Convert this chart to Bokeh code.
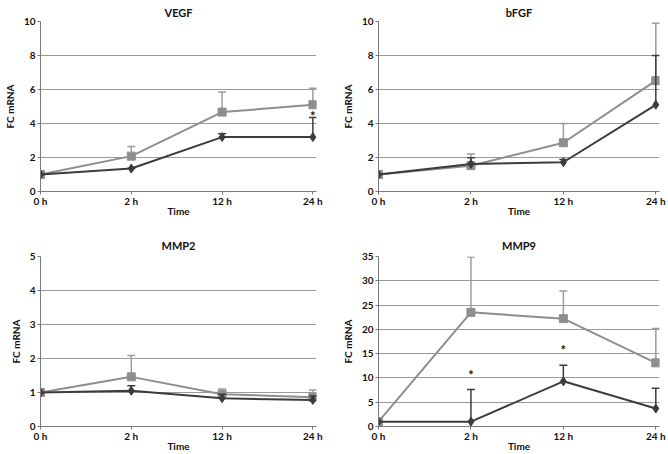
from bokeh.plotting import figure
from bokeh.layouts import gridplot
from bokeh.models import Range1d, FixedTicker, ColumnDataSource
from bokeh.embed import file_html
from bokeh.resources import INLINE
from bokeh.core.properties import value

times = ["0 h", "2 h", "12 h", "24 h"]
xpos = [0, 1, 2, 3]

vegf_dark = [1.0, 1.35, 3.2, 3.2]
vegf_dark_up = [1.0, 1.35, 3.4, 4.35]
vegf_gray = [1.0, 2.08, 4.67, 5.1]
vegf_gray_up = [1.0, 2.64, 5.86, 6.08]
vegf_star_x = [3]
vegf_star_y = [4.45]

bfgf_dark = [1.0, 1.62, 1.72, 5.1]
bfgf_dark_up = [1.0, 1.98, 1.88, 8.0]
bfgf_gray = [1.0, 1.52, 2.87, 6.52]
bfgf_gray_up = [1.0, 2.2, 4.0, 9.9]

mmp2_dark = [1.0, 1.05, 0.83, 0.78]
mmp2_dark_up = [1.0, 1.2, 0.95, 0.9]
mmp2_gray = [1.0, 1.46, 0.95, 0.86]
mmp2_gray_up = [1.0, 2.09, 1.1, 1.07]

mmp9_dark = [1.0, 1.0, 9.3, 3.7]
mmp9_dark_up = [1.0, 7.6, 12.6, 7.9]
mmp9_gray = [1.0, 23.5, 22.2, 13.1]
mmp9_gray_up = [1.0, 34.9, 27.9, 20.2]
mmp9_star_x = [1, 2]
mmp9_star_y = [10.6, 15.7]

DARK = "#3c3c3c"
GRAY = "#8e8e8e"
FONT = "Lato"


def panel(title, ymax, ystep, dark, dark_up, gray, gray_up, stars,
          left, right, top, bottom, title_standoff):
    p = figure(width=334, height=227, output_backend="svg", toolbar_location=None,
               x_range=Range1d(0, 3.04), y_range=Range1d(0, ymax),
               min_border_left=left, min_border_right=right,
               min_border_top=top, min_border_bottom=bottom)
    p.title.text = title
    p.title.align = "center"
    p.title.text_font = FONT
    p.title.text_font_size = "11px"
    p.title.text_font_style = "bold"
    p.title.text_color = "#111111"
    p.title.standoff = title_standoff
    p.outline_line_color = None
    p.xgrid.grid_line_color = None
    p.ygrid.grid_line_color = "#9a9a9a"
    p.ygrid.grid_line_width = 1
    p.xaxis.ticker = FixedTicker(ticks=xpos)
    p.xaxis.major_label_overrides = {i: t for i, t in zip(xpos, times)}
    p.yaxis.ticker = FixedTicker(ticks=list(range(0, ymax + 1, ystep)))
    for ax in (p.xaxis[0], p.yaxis[0]):
        ax.axis_line_color = "#7a7a7a"
        ax.major_tick_line_color = "#7a7a7a"
        ax.minor_tick_line_color = None
        ax.major_tick_out = 3
        ax.major_tick_in = 0
        ax.major_label_text_font = FONT
        ax.major_label_text_font_size = "10px"
        ax.major_label_text_font_style = "bold"
        ax.major_label_text_color = "#111111"
        ax.axis_label_text_font = FONT
        ax.axis_label_text_font_size = "10px"
        ax.axis_label_text_font_style = "bold"
        ax.axis_label_text_color = "#111111"
        ax.major_label_standoff = 2
    p.xaxis.axis_label = "Time"
    p.xaxis.major_label_standoff = 0
    p.xaxis.axis_label_standoff = -5
    p.yaxis.axis_label = "FC mRNA"
    p.yaxis.axis_label_standoff = 5

    for vals, ups, col, mk, lc in ((gray, gray_up, GRAY, "square", "#9c9c9c"),
                                  (dark, dark_up, DARK, "diamond", DARK)):
        src = ColumnDataSource(dict(x=xpos, y=vals, up=ups))
        p.segment(x0="x", y0="y", x1="x", y1="up", source=src, line_color=lc, line_width=1.5)
        p.scatter(x="x", y="up", source=src, marker="dash", size=8, line_color=lc, line_width=1.5)
        p.line(x="x", y="y", source=src, line_color=col, line_width=2)
        p.scatter(x="x", y="y", source=src, marker=mk, size=9 if mk == "diamond" else 8,
                  fill_color=col, line_color=col)
    if stars:
        sx, sy = stars
        p.text(x=sx, y=sy, text=["*"] * len(sx), text_font=value(FONT),
               text_font_size="13px", text_font_style="bold", text_color="#111111",
               text_align="center", text_baseline="middle")
    return p


p1 = panel("VEGF", 10, 2, vegf_dark, vegf_dark_up, vegf_gray, vegf_gray_up,
           (vegf_star_x, vegf_star_y), 35, 18, 20, 36, 6)
p2 = panel("bFGF", 10, 2, bfgf_dark, bfgf_dark_up, bfgf_gray, bfgf_gray_up,
           None, 44, 9, 20, 36, 6)
p3 = panel("MMP2", 5, 1, mmp2_dark, mmp2_dark_up, mmp2_gray, mmp2_gray_up,
           None, 35, 18, 29, 27, 9)
p4 = panel("MMP9", 35, 5, mmp9_dark, mmp9_dark_up, mmp9_gray, mmp9_gray_up,
           (mmp9_star_x, mmp9_star_y), 44, 9, 29, 27, 9)

grid = gridplot([[p1, p2], [p3, p4]], toolbar_location=None)

open("out.html", "w").write(file_html(grid, INLINE))
